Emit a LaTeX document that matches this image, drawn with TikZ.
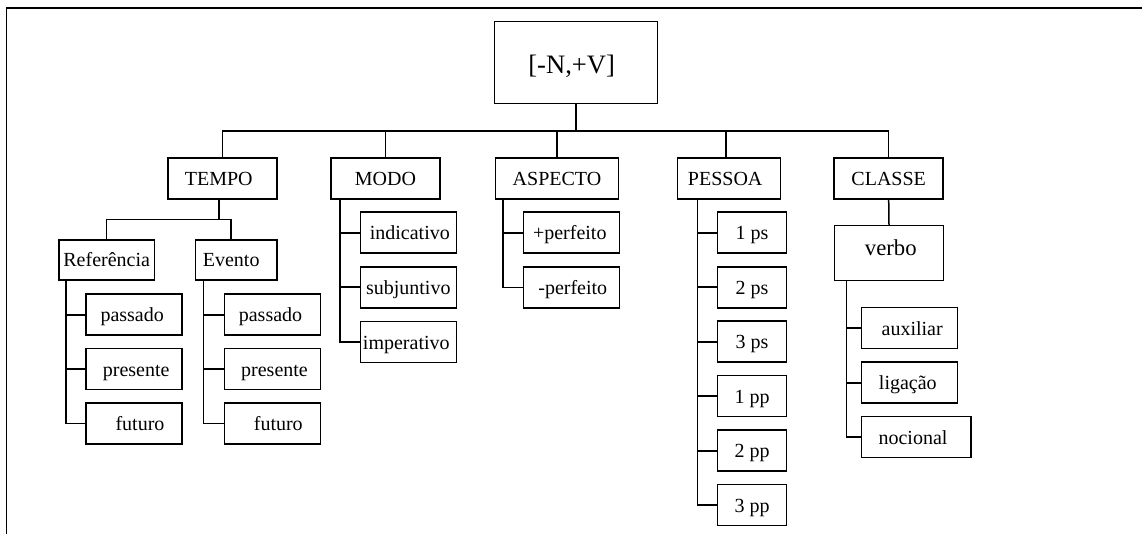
\documentclass[tikz,border=0pt]{standalone}
\usepackage{fontspec}
\setmainfont{Liberation Serif}
\begin{document}
\begin{tikzpicture}[x=1pt,y=-1pt,line width=1.5pt,
  box/.style={draw, inner sep=0pt, minimum height=41pt,
    font=\fontsize{20}{24}\selectfont, text height=15pt, text depth=1pt},
  cat/.style={box, minimum width=109pt},
  leaf/.style={box, minimum width=96pt},
  pers/.style={box, minimum width=68.6pt},
  tick/.style={line width=2pt}]
\useasboundingbox (0,0) rectangle (1142,534);
% open frame: top and left edges
\draw (1142,8) -- (6.7,8) -- (6.7,534);

% root
\node[box, minimum width=163.4pt, minimum height=81.6pt,
      font=\fontsize{26.6}{30}\selectfont, text height=22pt, text depth=0.4pt]
  (root) at (576,62.5) {\hspace*{-8.6pt}[-N,+V]};

% categories
\node[cat] (tempo) at (222.5,178.5) {\hspace*{-7.6pt}TEMPO};
\node[cat] (modo) at (385.5,178.5) {MODO};
\node[box, minimum width=122.6pt] (aspecto) at (557,178.5) {ASPECTO};
\node[box, minimum width=102.6pt] (pessoa) at (729,178.5) {\hspace*{-7.6pt}PESSOA};
\node[cat] (classe) at (888.7,178.5) {CLASSE};

% TEMPO
\node[box, minimum width=95.3pt, minimum height=40.3pt] (ref) at (106.7,260) {Referência};
\node[box, minimum width=81.7pt, minimum height=40.3pt] (evento) at (236.2,260) {\hspace*{-10pt}Evento};
\node[leaf] (rpas) at (134.2,314.7) {\hspace*{-4pt}passado};
\node[leaf] (rpre) at (134.2,369) {\hspace*{4pt}presente};
\node[leaf] (rfut) at (134.2,423.5) {\hspace*{11.6pt}futuro};
\node[leaf] (epas) at (272.5,314.7) {\hspace*{-4pt}passado};
\node[leaf] (epre) at (272.5,369) {\hspace*{4pt}presente};
\node[leaf] (efut) at (272.5,423.5) {\hspace*{11.6pt}futuro};

% MODO
\node[leaf] (mind) at (408.3,232.7) {\hspace*{3pt}indicativo};
\node[leaf] (msub) at (408.3,287.3) {subjuntivo};
\node[leaf] (mimp) at (408.3,342) {\hspace*{-4pt}imperativo};

% ASPECTO
\node[leaf] (apf) at (571.3,232.7) {\hspace*{-3pt}+perfeito};
\node[leaf] (amf) at (571.3,287.3) {\hspace*{3pt}-perfeito};

% PESSOA
\node[pers] (p1s) at (752,232.7) {1 ps};
\node[pers] (p2s) at (752,287.3) {2 ps};
\node[pers] (p3s) at (752,341.7) {3 ps};
\node[pers] (p1p) at (752,396.2) {1 pp};
\node[pers] (p2p) at (752,450.5) {2 pp};
\node[pers] (p3p) at (752,505) {3 pp};

% CLASSE
\node[box, minimum width=109.4pt, minimum height=54.6pt,
      font=\fontsize{22.7}{26}\selectfont, text height=10pt, text depth=4pt]
  (verbo) at (889,253) {\hspace*{3.6pt}verbo};
\node[leaf] (vaux) at (909.3,328) {\hspace*{5.8pt}auxiliar};
\node[leaf] (vlig) at (909.3,382.5) {\hspace*{-3pt}ligação};
\node[box, minimum width=109.7pt] (vnoc) at (916.2,437) {\hspace*{-6.4pt}nocional};

% root to categories
\coordinate (bus) at (0,131);
\draw (root.south) -- (root.south |- bus);
\draw (tempo.north) |- (classe.north |- bus) -- (classe.north);
\draw (modo.north) -- (modo.north |- bus);
\draw (aspecto.north) -- (aspecto.north |- bus);
\coordinate (pdrop) at ([xshift=-3pt]pessoa.north);
\draw (pdrop) -- (pdrop |- bus);

% TEMPO to Referência / Evento
\coordinate (tbus) at (0,219.5);
\coordinate (tdrop) at ([xshift=-3.5pt]tempo.south);
\coordinate (edrop) at ([xshift=-5pt]evento.north);
\draw (tdrop) -- (tdrop |- tbus);
\draw (ref.north) |- (edrop |- tbus) -- (edrop);

% CLASSE to verbo
\draw (classe.south) -- (verbo.north);

% spines with ticks
\coordinate (rspine) at ([xshift=7.7pt]ref.south west);
\coordinate (espine) at ([xshift=9pt]evento.south west);
\coordinate (mspine) at ([xshift=9.7pt]modo.south west);
\coordinate (aspine) at ([xshift=8pt]aspecto.south west);
\coordinate (pspine) at ([xshift=20.3pt]pessoa.south west);
\coordinate (vspine) at ([xshift=13pt]verbo.south west);

\draw (rspine) |- (rfut.west);
\foreach \c in {rpas,rpre} \draw[tick] (\c.west) -- (\c.west -| rspine);
\draw (espine) |- (efut.west);
\foreach \c in {epas,epre} \draw[tick] (\c.west) -- (\c.west -| espine);
\draw (mspine) |- (mimp.west);
\foreach \c in {mind,msub} \draw[tick] (\c.west) -- (\c.west -| mspine);
\draw (aspine) |- (amf.west);
\foreach \c in {apf} \draw[tick] (\c.west) -- (\c.west -| aspine);
\draw (pspine) |- (p3p.west);
\foreach \c in {p1s,p2s,p3s,p1p,p2p} \draw[tick] (\c.west) -- (\c.west -| pspine);
\draw (vspine) |- (vnoc.west);
\foreach \c in {vaux,vlig} \draw[tick] (\c.west) -- (\c.west -| vspine);
\end{tikzpicture}
\end{document}
